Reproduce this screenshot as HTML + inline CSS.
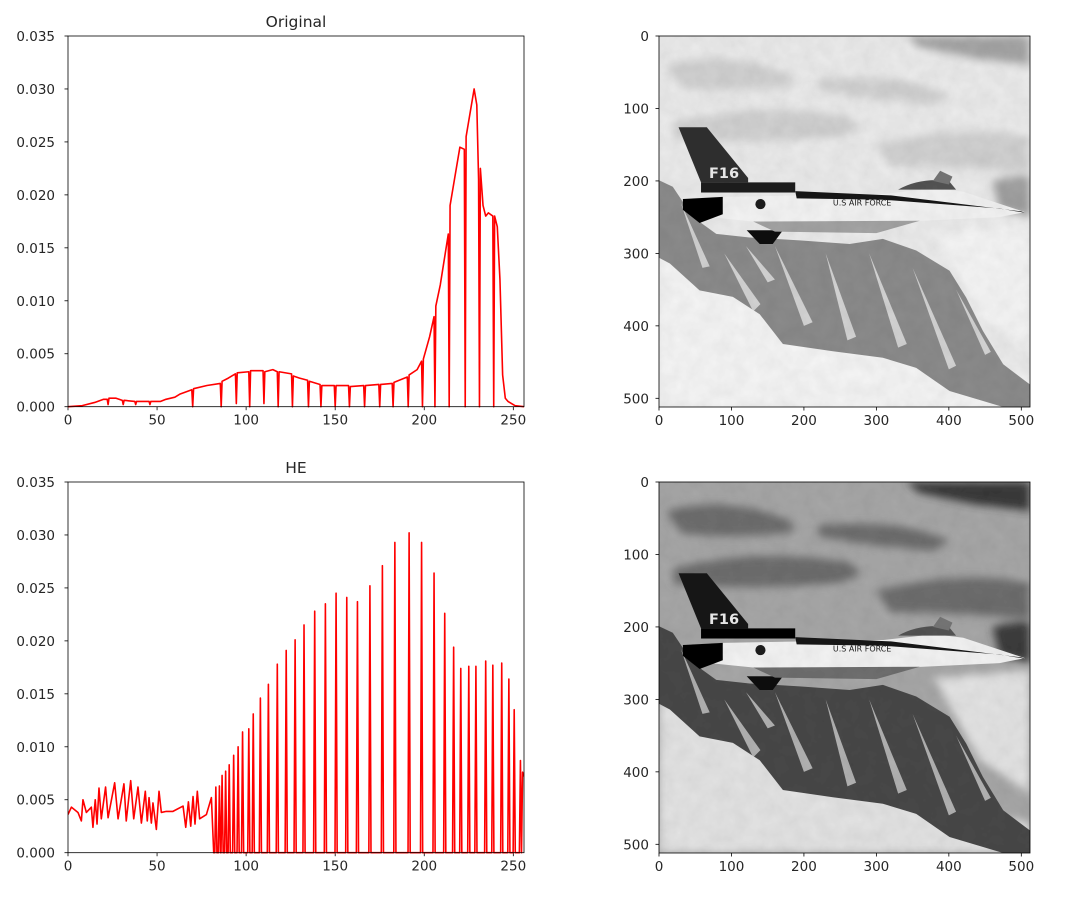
<!DOCTYPE html>
<html><head><meta charset="utf-8">
<style>
body{margin:0;background:#fff;}
svg{display:block;font-family:"DejaVu Sans","Liberation Sans",sans-serif;}
text{font-size:13.5px;fill:#262626;}
</style></head>
<body>
<svg id="fig" width="1069" height="899" viewBox="0 0 1069 899" xmlns="http://www.w3.org/2000/svg">
<defs>
<filter id="grain" x="0" y="0" width="100%" height="100%">
<feTurbulence type="fractalNoise" baseFrequency="0.05" numOctaves="3" seed="3" result="n"/>
<feColorMatrix in="n" type="matrix" values="0 0 0 0 0  0 0 0 0 0  0 0 0 0 0  0 0 0 0.14 0" result="a"/>
<feComposite in="a" in2="SourceGraphic" operator="in" result="b"/>
<feMerge><feMergeNode in="SourceGraphic"/><feMergeNode in="b"/></feMerge>
</filter>
<filter id="blur4"><feGaussianBlur stdDeviation="6"/></filter>
</defs>
<g id="hist1"></g>
<g id="hist2"></g>
<g id="img1"></g>
<g id="img2"></g>
</svg>
<script>
// Original histogram vertices (bin, normalized frequency)
const origBins = [0,8,15,20,22,22.5,23,27,30.5,31,31.5,37.5,38,38.5,45.5,46,46.5,52,55,60,63,69.5,70,70.5,78,85.5,86,86.5,90,94,94.5,95,101.5,102,102.5,109.5,110,110.5,115,117.5,118,118.5,125.5,126,126.5,130,134.5,135,135.5,141.5,142,142.5,149.5,150,150.5,157.5,158,158.5,166,166.5,167,174.5,175,175.5,182,182.5,183,190.5,191,191.5,196,198.5,199,199.5,203,205.5,206,206.5,209,213.5,214,214.5,218,220,222.5,223,223.5,226,228,229.5,230.5,231,231.5,233,234.5,236,238.5,239,239.5,241,242.5,244,245.5,247,249,251,256];
const origVals = [0,0.0001,0.0004,0.0007,0.0007,0.0002,0.0008,0.0008,0.0006,0.0002,0.0006,0.0005,0.0002,0.0005,0.0005,0.0002,0.0005,0.0005,0.0007,0.0009,0.0012,0.0016,0,0.0017,0.002,0.0022,0,0.0024,0.0027,0.0031,0.0003,0.0032,0.0033,0,0.0034,0.0034,0.0003,0.0033,0.0035,0.0033,0,0.0033,0.0031,0,0.0029,0.0027,0.0025,0,0.0024,0.0021,0,0.002,0.002,0,0.002,0.002,0,0.0019,0.002,0,0.002,0.0021,0,0.0021,0.0022,0,0.0023,0.0028,0,0.003,0.0035,0.0043,0,0.0045,0.0066,0.0085,0,0.0095,0.0115,0.0163,0,0.019,0.0225,0.0245,0.0243,0,0.0255,0.028,0.030,0.0285,0.0215,0,0.0225,0.019,0.018,0.0183,0.018,0,0.018,0.017,0.012,0.003,0.0008,0.0005,0.0003,0.0001,0];
// HE histogram: noisy low region (bin, value)
const heLowBins = [0,1.9,5.6,7.5,8.4,10.3,13.1,14,15.3,16.3,17.4,18.7,21.1,22.5,26.2,28.1,31.4,32.7,35.2,36.9,39.3,41.2,43.4,44.5,45.5,46.8,47.7,49.6,51.1,52.4,55.2,58.9,64.6,66.1,67.6,68.9,70.2,71.3,72.6,73.9,77.7,80.5,81.8];
const heLowVals = [0.0036,0.0043,0.0038,0.0030,0.0050,0.0038,0.0043,0.0024,0.0050,0.0027,0.0061,0.0032,0.0062,0.0033,0.0066,0.0032,0.0065,0.0030,0.0068,0.0032,0.0062,0.0028,0.0058,0.0030,0.0052,0.0028,0.0047,0.0022,0.0058,0.0038,0.0039,0.0039,0.0044,0.0024,0.0048,0.0025,0.0053,0.0027,0.0058,0.0032,0.0036,0.0052,0];
// HE spikes (bin, value), zero between
const heSpikeBins = [83,85,86.5,88.5,90.5,93,95.5,98,101.5,104,108,112.5,117.5,122.5,127.5,132.5,138.5,144.5,150.5,156.5,162.5,169.5,176.5,183.5,191.5,198.5,205.5,211.5,216.5,220.5,225,229,234.5,238.5,243.5,247.5,250.5,254];
const heSpikeVals = [0.0062,0.0063,0.0073,0.0077,0.0083,0.0092,0.0100,0.0114,0.0117,0.0131,0.0146,0.0159,0.0178,0.0191,0.0201,0.0215,0.0228,0.0235,0.0245,0.0241,0.0237,0.0252,0.0271,0.0293,0.0302,0.0293,0.0264,0.0226,0.0194,0.0174,0.0176,0.0176,0.0181,0.0177,0.0179,0.0164,0.0135,0.0087];
const heEnd = [255.2,0.0076,256,0.0072];
const yTicks = [0,0.005,0.010,0.015,0.020,0.025,0.030,0.035];
const yTickLabels = ["0.000","0.005","0.010","0.015","0.020","0.025","0.030","0.035"];
const xTicks = [0,50,100,150,200,250];
const imgTicks = [0,100,200,300,400,500];

const NS="http://www.w3.org/2000/svg";
function mk(tag,attrs,parent){const e=document.createElementNS(NS,tag);for(const k in attrs)e.setAttribute(k,attrs[k]);parent.appendChild(e);return e;}

function drawAxes(g,top,title){
  const L=68,R=524,B=top+370.7;
  const sx=v=>L+(v/256)*(R-L), sy=v=>B-(v/0.035)*(B-top);
  yTicks.forEach((t,i)=>{
    const y=sy(t);
    const tk=mk('line',{x1:L-3.5,x2:L,y1:y,y2:y,stroke:'#000','stroke-width':0.8},g);
    
    
    const tx=mk('text',{x:L-13,y:y+5,'text-anchor':'end'},g);
    tx.textContent=yTickLabels[i];
    
    
  });
  xTicks.forEach(t=>{
    const x=sx(t);
    const tk=mk('line',{x1:x,x2:x,y1:B,y2:B+3.5,stroke:'#000','stroke-width':0.8},g);
    
    
    const tx=mk('text',{x:x,y:B+18,'text-anchor':'middle'},g);
    tx.textContent=String(t);
    
    
  });
  const tt=mk('text',{x:(L+R)/2,y:top-9,'text-anchor':'middle',style:'font-size:15.5px'},g);
  tt.textContent=title;
  
  
  return {sx,sy,L,R,B,top};
}
function frame(g,a){
  const f=mk('rect',{x:a.L,y:a.top,width:a.R-a.L,height:a.B-a.top,fill:'none',stroke:'#000','stroke-width':0.8},g);
  
  
}

(function(){
  const g=document.getElementById('hist1');
  const a=drawAxes(g,36,'Original');
  const pts=origBins.map((b,i)=>a.sx(b).toFixed(2)+','+a.sy(origVals[i]).toFixed(2)).join(' ');
  const p=mk('polyline',{points:pts,fill:'none',stroke:'#ff0000','stroke-width':1.6,'stroke-linejoin':'round'},g);
  
  
  frame(g,a);
})();
(function(){
  const g=document.getElementById('hist2');
  const a=drawAxes(g,482,'HE');
  const P=[];
  heLowBins.forEach((b,i)=>P.push([b,heLowVals[i]]));
  heSpikeBins.forEach((b,i)=>{P.push([b-0.6,0]);P.push([b,heSpikeVals[i]]);P.push([b+0.6,0]);});
  P.push([heEnd[0],heEnd[1]]);P.push([heEnd[2],heEnd[3]]);
  const cp=mk('clipPath',{id:'heclip'},g);
  mk('rect',{x:a.L,y:a.top,width:a.R-a.L,height:a.B-a.top+2},cp);
  const pts=P.map(q=>a.sx(q[0]).toFixed(2)+','+a.sy(q[1]).toFixed(2)).join(' ');
  const p=mk('polyline',{points:pts,fill:'none',stroke:'#ff0000','stroke-width':1.6,'stroke-linejoin':'round','clip-path':'url(#heclip)'},g);
  
  
  frame(g,a);
})();

function drawImage(g,top,he){
  const L=659,S=371/512;
  const c = he ? {sky:'#a8a8a8',sky2:'#6e6e6e',dark:'#3c3c3c',mtn:'#484848',snow:'#e0e0e0',light:'#e4e4e4',band:'#3a3a3a'}
               : {sky:'#ececec',sky2:'#d2d2d2',dark:'#a0a0a0',mtn:'#8c8c8c',snow:'#f2f2f2',light:'#f6f6f6',band:'#a6a6a6'};
  const inner=mk('svg',{x:L,y:top,width:371,height:371,viewBox:'0 0 512 512',preserveAspectRatio:'none'},g);
  
  
  const s=mk('g',{filter:'url(#grain)'},inner);
  mk('rect',{x:0,y:0,width:512,height:512,fill:c.sky},s);
  const bl=mk('g',{filter:'url(#blur4)'},s);
  mk('path',{d:'M340,0 L512,0 L512,40 L430,30 L360,15 Z',fill:c.band},bl);
  mk('path',{d:'M10,40 Q80,20 160,45 Q200,60 180,70 Q100,80 30,70 Z',fill:c.sky2},bl);
  mk('path',{d:'M20,120 Q120,90 260,110 Q300,130 240,140 Q120,150 20,140 Z',fill:c.sky2},bl);
  mk('path',{d:'M220,60 Q330,50 400,80 L380,95 Q300,90 220,75 Z',fill:c.sky2},bl);
  mk('path',{d:'M300,150 Q420,120 512,140 L512,190 Q420,180 320,180 Z',fill:c.sky2},bl);
  mk('path',{d:'M460,200 Q500,190 512,195 L512,250 L470,240 Z',fill:c.dark},bl);
  mk('path',{d:'M0,300 L120,330 L250,420 L512,470 L512,512 L0,512 Z',fill:c.light},bl);
  mk('path',{d:'M380,270 L512,260 L512,430 L440,380 Z',fill:c.light},bl);
  mk('polygon',{points:'0,199 19,208 47,250 79,273 125,278 194,282 263,287 309,280 355,296 401,324 424,361 447,407 475,453 512,481 512,512 475,512 401,490 355,458 309,444 240,435 171,425 139,384 102,360 56,351 15,314 0,306',fill:c.mtn},s);
  const streaks=['M90,300 L130,380 L140,370 Z','M160,290 L200,400 L212,395 Z','M230,300 L260,420 L272,415 Z','M290,300 L330,430 L342,425 Z','M350,320 L400,460 L410,455 Z','M30,230 L60,320 L70,318 Z','M120,290 L150,340 L160,336 Z','M410,350 L450,440 L458,436 Z'];
  streaks.forEach(d=>mk('path',{d:d,fill:c.snow,opacity:0.7},s));
  mk('path',{d:'M27,126 L66,126 L123,196 L123,202 L58,202 Z',fill:he?'#1e1e1e':'#333'},s);
  mk('rect',{x:58,y:202,width:130,height:14,fill:he?'#111':'#222'},s);
  mk('path',{d:'M88,222 L310,218 L380,210 L420,215 L505,243 L470,250 L300,258 L130,256 L70,250 Z',fill:'#f4f4f4'},s);
  mk('path',{d:'M188,214 L320,220 L500,242 L505,244 L470,238 L310,226 L190,224 Z',fill:'#1a1a1a'},s);
  mk('path',{d:'M330,212 Q360,195 400,200 L410,212 Z',fill:'#555'},s);
  mk('path',{d:'M378,200 L388,186 L405,194 L400,205 Z',fill:'#777'},s);
  mk('path',{d:'M33,225 L88,222 L88,246 L56,258 L33,240 Z',fill:'#111'},s);
  mk('path',{d:'M121,268 L171,268 L157,287 L139,287 Z',fill:'#151515'},s);
  mk('path',{d:'M130,256 L360,255 L300,272 L160,270 Z',fill:he?'#707070':'#a4a4a4'},s);
  mk('circle',{cx:140,cy:232,r:7,fill:'#222'},s);
  mk('text',{x:69,y:196,style:'font-size:20px;font-weight:bold;fill:#eee'},s).textContent='F16';
  mk('text',{x:240,y:234,style:'font-size:11px;fill:#222'},s).textContent='U.S AIR FORCE';
  const fr=mk('rect',{x:L,y:top,width:371,height:371,fill:'none',stroke:'#000','stroke-width':0.8},g);
  
  
  imgTicks.forEach(t=>{
    const x=L+t*S, y=top+t*S, B=top+371;
    const a=mk('line',{x1:x,x2:x,y1:B,y2:B+3.5,stroke:'#000','stroke-width':0.8},g);
    
    
    const tx=mk('text',{x:x,y:B+18,'text-anchor':'middle'},g);
    tx.textContent=String(t);
    
    
    const b=mk('line',{x1:L-3.5,x2:L,y1:y,y2:y,stroke:'#000','stroke-width':0.8},g);
    
    
    const ty=mk('text',{x:L-10,y:y+5,'text-anchor':'end'},g);
    ty.textContent=String(t);
    
    
  });
}
drawImage(document.getElementById('img1'),36,false);
drawImage(document.getElementById('img2'),482,true);
</script>
</body></html>
